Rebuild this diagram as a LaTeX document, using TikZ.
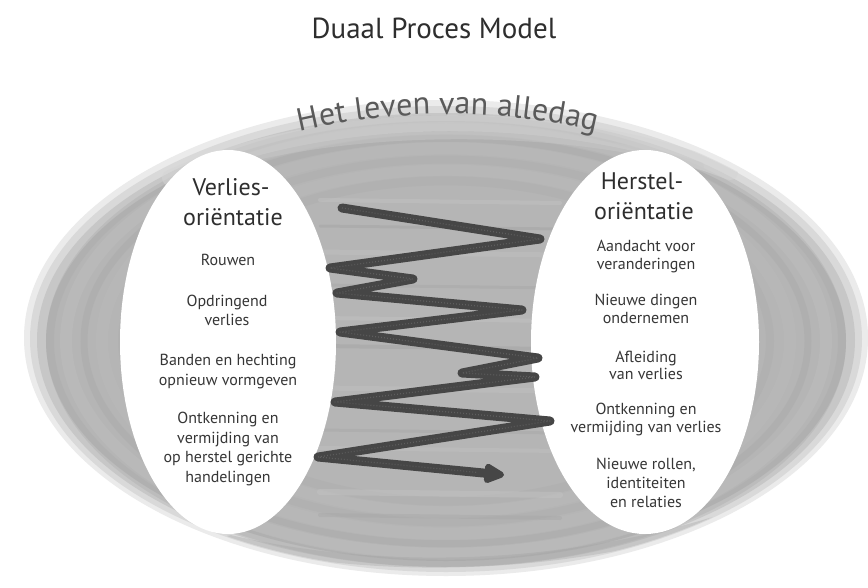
\documentclass[tikz,border=0pt]{standalone}
\usepackage{fontspec}
\setmainfont{PT Sans}
\usetikzlibrary{arrows.meta,decorations.text,calc}
\definecolor{ink}{HTML}{2E2E2E}
\definecolor{txt}{HTML}{363636}
\definecolor{arcgray}{HTML}{5A5A5A}
\definecolor{zig}{HTML}{464646}
\begin{document}
\begin{tikzpicture}[x=1pt,y=-1pt,
  title/.style={font=\fontsize{29}{32}\selectfont, text=ink, inner sep=0pt},
  head/.style={font=\fontsize{24}{26}\selectfont, text=ink, anchor=base, inner sep=0pt},
  item/.style={font=\fontsize{16}{18}\selectfont, text=txt, anchor=base, inner sep=0pt},
  brush/.style={line cap=round},
  zigline/.style={draw=zig, line width=9pt, line cap=round, line join=round},
  speck/.style={draw=black!55, line width=1.2pt, dash pattern=on 0.8pt off 2.2pt, opacity=.55, line join=round}
]
\useasboundingbox (0,0) rectangle (868,587);
\fill[white] (0,0) rectangle (868,587);

% --- grey brush ellipse, soft edge ---
\fill[black!8]  (446,338) ellipse [x radius=422, y radius=238];
\fill[black!15] (446,339) ellipse [x radius=416, y radius=233];
\fill[black!22] (446,340) ellipse [x radius=409, y radius=227];
\fill[black!29] (446,341) ellipse [x radius=400, y radius=220];
\begin{scope}
  \clip (446,338) ellipse [x radius=416, y radius=233];
  \foreach \r/\c/\w/\o in {396/black!34/8/.35, 380/black!25/12/.4, 362/black!35/7/.35,
                          344/black!26/12/.35, 324/black!34/8/.3, 305/black!26/11/.35,
                          286/black!34/9/.3} {
    \pgfmathsetmacro{\ry}{\r*0.56}
    \draw[brush, color=\c, line width=\w pt, opacity=\o] (446,341) ellipse [x radius=\r, y radius=\ry];
  }
  % lighter top sweep
  \draw[brush, black!17, line width=16pt, opacity=.55] (170,178) .. controls (330,106) and (560,106) .. (730,172);
  \draw[brush, black!21, line width=8pt, opacity=.45] (200,172) .. controls (340,124) and (560,124) .. (700,166);
  % horizontal streaks in the middle
  \foreach \y/\c/\w in {200/black!23/4, 226/black!36/3, 252/black!24/5, 285/black!35/3, 318/black!23/4,
                        346/black!36/4, 388/black!24/5, 430/black!35/3, 448/black!24/4, 492/black!23/6, 515/black!34/4} {
    \draw[brush, color=\c, line width=\w pt, opacity=.45] (320,\y) -- (560,\y+3);
  }
  % lower sweep
  \draw[brush, black!36, line width=10pt, opacity=.35] (230,540) .. controls (380,575) and (560,570) .. (720,520);
  \draw[brush, black!20, line width=7pt, opacity=.45] (260,557) .. controls (400,586) and (560,579) .. (700,540);
\end{scope}

% --- white orientation ellipses ---
\fill[white] (228,342) ellipse [x radius=108, y radius=192];
\fill[white] (645,342) ellipse [x radius=114, y radius=192];

% --- title ---
\node[title] (title) at (434,28) {Duaal Proces Model};

% --- curved label ---
\coordinate (arcL) at (297,132);
\coordinate (arcR) at (599,132);
\path[decorate, decoration={text along path, text align=center,
   text={|\fontsize{32}{32}\selectfont\color{arcgray}|Het leven van alledag}}]
   (arcL) .. controls (398,108) and (498,108) .. (arcR);

% --- left column ---
\node[head] (lh1) at (231,195) {Verlies-};
\node[head] (lh2) at (233,225) {oriëntatie};
\node[item] (l1)  at (228,265) {Rouwen};
\node[item] (l2a) at (227,306) {Opdringend};
\node[item] (l2b) at (227,325) {verlies};
\node[item] (l3a) at (228,365) {Banden en hechting};
\node[item] (l3b) at (228,385) {opnieuw vormgeven};
\node[item] (l4a) at (228,423) {Ontkenning en};
\node[item] (l4b) at (228,443) {vermijding van};
\node[item] (l4c) at (228,462) {op herstel gerichte};
\node[item] (l4d) at (228,482) {handelingen};

% --- right column ---
\node[head] (rh1) at (642,189) {Herstel-};
\node[head] (rh2) at (644,219) {oriëntatie};
\node[item] (r1a) at (646,251) {Aandacht voor};
\node[item] (r1b) at (646,269) {veranderingen};
\node[item] (r2a) at (646,305) {Nieuwe dingen};
\node[item] (r2b) at (646,323) {ondernemen};
\node[item] (r3a) at (646,362) {Afleiding};
\node[item] (r3b) at (646,379) {van verlies};
\node[item] (r4a) at (646,414) {Ontkenning en};
\node[item] (r4b) at (646,432) {vermijding van verlies};
\node[item] (r5a) at (646,469) {Nieuwe rollen,};
\node[item] (r5b) at (646,488) {identiteiten};
\node[item] (r5c) at (646,507) {en relaties};

% --- zigzag oscillation arrow ---
\coordinate (z0) at (342,208);
\coordinate (z1) at (540,239);
\coordinate (z2) at (330,268);
\coordinate (z3) at (413,279);
\coordinate (z4) at (337,293);
\coordinate (z5) at (522,310);
\coordinate (z6) at (340,332);
\coordinate (z7) at (538,358);
\coordinate (z8) at (462,373);
\coordinate (z9) at (535,377);
\coordinate (z10) at (335,402);
\coordinate (z11) at (550,421);
\coordinate (z12) at (318,457);
\coordinate (z13) at (504,475);
\coordinate (z12b) at ($(z12)!0.85!(z13)$);
\draw[zigline, -{Triangle[length=24pt,width=21pt,round]}]
  (z0) -- (z1) -- (z2) -- (z3) -- (z4) -- (z5) -- (z6) -- (z7) -- (z8) -- (z9) -- (z10) -- (z11) -- (z12) -- (z13);
\draw[speck] (z0) -- (z1) -- (z2) -- (z3) -- (z4) -- (z5) -- (z6) -- (z7) -- (z8) -- (z9) -- (z10) -- (z11) -- (z12) -- (z12b);
\end{tikzpicture}
\end{document}
